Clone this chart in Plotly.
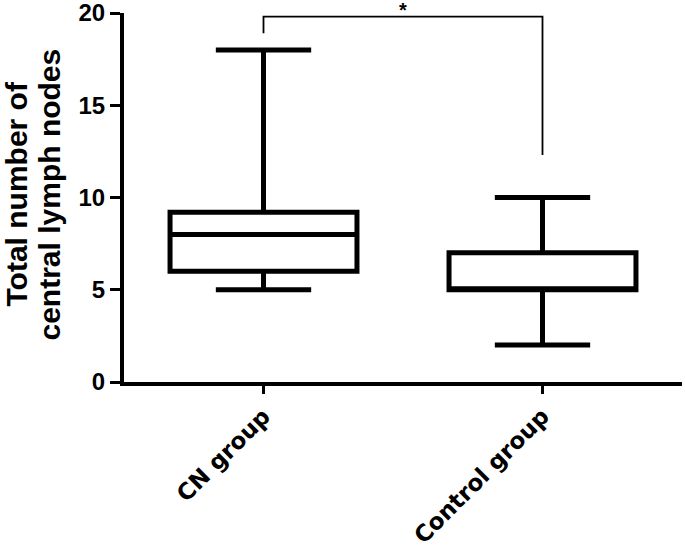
import plotly.graph_objects as go

categories = ["CN group", "Control group"]
q1_vals = [6, 5]
median_vals = [8, 5]
q3_vals = [9.2, 7]
min_vals = [5, 2]
max_vals = [18, 10]

y_ticks = [0, 5, 10, 15, 20]
y_title_lines = ["Total number of", "central lymph nodes"]

# significance bracket (category index, value)
bracket_x = [0, 0, 1, 1]
bracket_y = [18.9, 19.8, 19.8, 12.3]
sig_label = "*"

font_family = "Liberation Sans, Arial, sans-serif"
xlab_family = "DejaVu Sans, sans-serif"

fig = go.Figure()
for i, cat in enumerate(categories):
    fig.add_trace(go.Box(
        x=[cat],
        q1=[q1_vals[i]], median=[median_vals[i]], q3=[q3_vals[i]],
        lowerfence=[min_vals[i]], upperfence=[max_vals[i]],
        width=0.67, whiskerwidth=0.51,
        fillcolor="white",
        line=dict(color="black", width=5),
        boxpoints=False, showlegend=False, hoverinfo="skip",
    ))

fig.add_trace(go.Scatter(
    x=[categories[i] for i in bracket_x], y=bracket_y,
    mode="lines", line=dict(color="black", width=1.8),
    showlegend=False, hoverinfo="skip", cliponaxis=False,
))

fig.add_annotation(
    x=0.5, y=bracket_y[1], xref="x", yref="y",
    text=sig_label, showarrow=False, yanchor="bottom", yshift=-6,
    font=dict(family=font_family, size=20, color="black", weight="bold"),
)

# two-line y-axis title as rotated annotations
title_xshift = [-108, -75]
for line, xs in zip(y_title_lines, title_xshift):
    fig.add_annotation(
        x=0, y=0.5, xref="paper", yref="paper", xshift=xs, yshift=3,
        text=line, showarrow=False, textangle=-90,
        xanchor="center", yanchor="middle",
        font=dict(family=font_family, size=30, color="black", weight="bold"),
    )

fig.update_layout(
    width=685, height=553,
    margin=dict(l=124, r=3, t=13, b=171),
    paper_bgcolor="white", plot_bgcolor="white",
    font=dict(family=font_family, color="black"),
)
fig.update_xaxes(
    type="category", range=[-0.5, 1.5], automargin=False,
    showline=True, linecolor="black", linewidth=3.5,
    ticks="outside", ticklen=8, tickwidth=3, tickcolor="black",
    tickangle=-45, showgrid=False, zeroline=False,
    ticklabeloverflow="allow",
    tickfont=dict(family=xlab_family, size=23, color="black", weight="bold"),
)
fig.update_yaxes(
    range=[0, 20], tickvals=y_ticks, automargin=False,
    showline=True, linecolor="black", linewidth=4,
    ticks="outside", ticklen=10, tickwidth=3, tickcolor="black",
    showgrid=False, zeroline=False,
    ticklabeloverflow="allow",
    tickfont=dict(family=font_family, size=24, color="black", weight="bold"),
)

fig.write_html("out.html", config={"displayModeBar": False},
               post_script="document.body.style.margin='0';")
